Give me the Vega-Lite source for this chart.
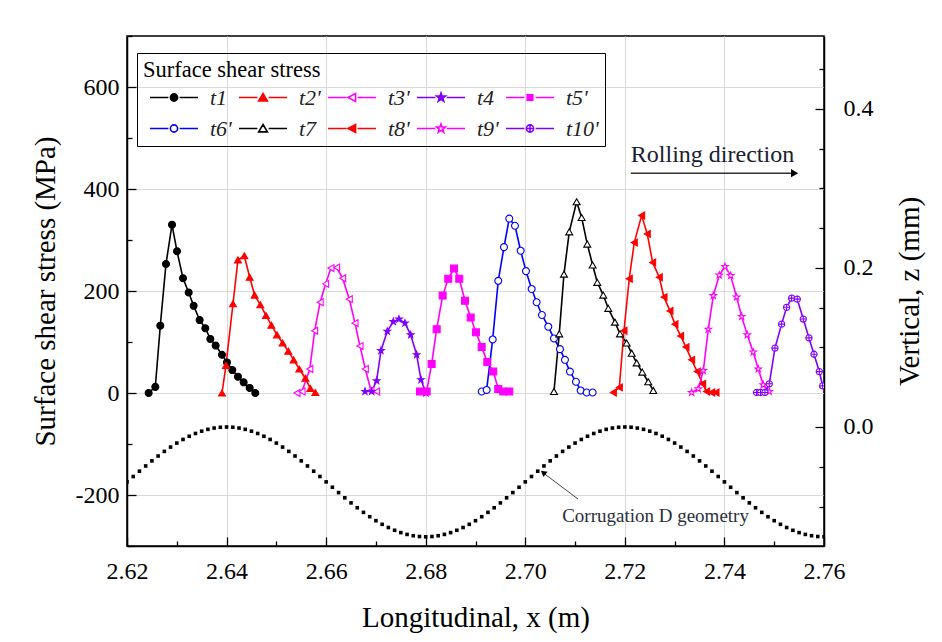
{
  "$schema": "https://vega.github.io/schema/vega-lite/v6.json",
  "width": 697,
  "height": 510,
  "autosize": {"type": "none"},
  "padding": {"left": 127, "top": 36, "right": 118, "bottom": 96},
  "background": "white",
  "config": {
    "view": {"stroke": "black", "strokeWidth": 1.5},
    "axis": {
      "labelFont": "Liberation Serif", "labelFontSize": 24, "labelColor": "black",
      "titleFont": "Liberation Serif", "titleFontSize": 29, "titleFontWeight": "normal", "titleColor": "black",
      "domainColor": "black", "domainWidth": 1.5, "tickColor": "black", "tickWidth": 1.3,
      "gridColor": "#d9d9d9", "gridWidth": 1
    },
    "text": {"font": "Liberation Serif"},
    "legend": {
      "titleFont": "Liberation Serif", "titleFontSize": 22.5, "titleFontWeight": "normal", "titleColor": "black", "titleLimit": 400,
      "labelFont": "Liberation Serif", "labelFontSize": 22, "labelFontStyle": "italic", "labelColor": "#222222"
    }
  },
  "datasets": {
    "curves": [
      {"series": "t1", "x": 2.62435, "s": 0}, {"series": "t1", "x": 2.62569, "s": 12}, {"series": "t1", "x": 2.62669, "s": 132}, {"series": "t1", "x": 2.62783, "s": 253}, {"series": "t1", "x": 2.62904, "s": 330}, {"series": "t1", "x": 2.63004, "s": 278}, {"series": "t1", "x": 2.63125, "s": 225}, {"series": "t1", "x": 2.63239, "s": 197}, {"series": "t1", "x": 2.63339, "s": 171}, {"series": "t1", "x": 2.63459, "s": 143}, {"series": "t1", "x": 2.63573, "s": 127}, {"series": "t1", "x": 2.63674, "s": 106}, {"series": "t1", "x": 2.63781, "s": 93}, {"series": "t1", "x": 2.63908, "s": 75}, {"series": "t1", "x": 2.64008, "s": 60}, {"series": "t1", "x": 2.64116, "s": 45}, {"series": "t1", "x": 2.64229, "s": 32}, {"series": "t1", "x": 2.64343, "s": 21}, {"series": "t1", "x": 2.64464, "s": 10}, {"series": "t1", "x": 2.64577, "s": 0},
      {"series": "t2'", "x": 2.63908, "s": 0}, {"series": "t2'", "x": 2.63988, "s": 54}, {"series": "t2'", "x": 2.64129, "s": 175}, {"series": "t2'", "x": 2.64229, "s": 261}, {"series": "t2'", "x": 2.64357, "s": 269}, {"series": "t2'", "x": 2.64464, "s": 227}, {"series": "t2'", "x": 2.64564, "s": 192}, {"series": "t2'", "x": 2.64678, "s": 173}, {"series": "t2'", "x": 2.64792, "s": 152}, {"series": "t2'", "x": 2.64899, "s": 133}, {"series": "t2'", "x": 2.65013, "s": 114}, {"series": "t2'", "x": 2.65126, "s": 98}, {"series": "t2'", "x": 2.6524, "s": 82}, {"series": "t2'", "x": 2.65347, "s": 65}, {"series": "t2'", "x": 2.65461, "s": 47}, {"series": "t2'", "x": 2.65582, "s": 29}, {"series": "t2'", "x": 2.65682, "s": 9}, {"series": "t2'", "x": 2.65783, "s": 1},
      {"series": "t3'", "x": 2.65414, "s": 0}, {"series": "t3'", "x": 2.65515, "s": 3}, {"series": "t3'", "x": 2.65672, "s": 47}, {"series": "t3'", "x": 2.65769, "s": 122}, {"series": "t3'", "x": 2.6588, "s": 178}, {"series": "t3'", "x": 2.6599, "s": 214}, {"series": "t3'", "x": 2.66097, "s": 245}, {"series": "t3'", "x": 2.66211, "s": 246}, {"series": "t3'", "x": 2.66332, "s": 225}, {"series": "t3'", "x": 2.66465, "s": 184}, {"series": "t3'", "x": 2.66579, "s": 137}, {"series": "t3'", "x": 2.6668, "s": 92}, {"series": "t3'", "x": 2.66787, "s": 47}, {"series": "t3'", "x": 2.669, "s": 5}, {"series": "t3'", "x": 2.67014, "s": 3},
      {"series": "t4", "x": 2.6678, "s": 3}, {"series": "t4", "x": 2.66914, "s": 3}, {"series": "t4", "x": 2.67014, "s": 24}, {"series": "t4", "x": 2.67101, "s": 83}, {"series": "t4", "x": 2.67228, "s": 121}, {"series": "t4", "x": 2.67349, "s": 140}, {"series": "t4", "x": 2.67463, "s": 145}, {"series": "t4", "x": 2.67583, "s": 137}, {"series": "t4", "x": 2.67698, "s": 114}, {"series": "t4", "x": 2.67818, "s": 75}, {"series": "t4", "x": 2.67905, "s": 26}, {"series": "t4", "x": 2.68005, "s": 0},
      {"series": "t5'", "x": 2.67885, "s": 3}, {"series": "t5'", "x": 2.68019, "s": 3}, {"series": "t5'", "x": 2.68119, "s": 57}, {"series": "t5'", "x": 2.6822, "s": 125}, {"series": "t5'", "x": 2.6834, "s": 191}, {"series": "t5'", "x": 2.68453, "s": 224}, {"series": "t5'", "x": 2.68568, "s": 244}, {"series": "t5'", "x": 2.68674, "s": 224}, {"series": "t5'", "x": 2.68789, "s": 181}, {"series": "t5'", "x": 2.68903, "s": 148}, {"series": "t5'", "x": 2.69009, "s": 119}, {"series": "t5'", "x": 2.69124, "s": 90}, {"series": "t5'", "x": 2.69237, "s": 61}, {"series": "t5'", "x": 2.69357, "s": 42}, {"series": "t5'", "x": 2.69457, "s": 8}, {"series": "t5'", "x": 2.69558, "s": 3}, {"series": "t5'", "x": 2.69678, "s": 3},
      {"series": "t6'", "x": 2.69124, "s": 3}, {"series": "t6'", "x": 2.69224, "s": 6}, {"series": "t6'", "x": 2.69345, "s": 105}, {"series": "t6'", "x": 2.69457, "s": 220}, {"series": "t6'", "x": 2.69572, "s": 286}, {"series": "t6'", "x": 2.69678, "s": 342}, {"series": "t6'", "x": 2.69793, "s": 328}, {"series": "t6'", "x": 2.69907, "s": 279}, {"series": "t6'", "x": 2.70014, "s": 239}, {"series": "t6'", "x": 2.70128, "s": 204}, {"series": "t6'", "x": 2.70228, "s": 178}, {"series": "t6'", "x": 2.70335, "s": 153}, {"series": "t6'", "x": 2.70462, "s": 130}, {"series": "t6'", "x": 2.70576, "s": 107}, {"series": "t6'", "x": 2.70697, "s": 86}, {"series": "t6'", "x": 2.70797, "s": 65}, {"series": "t6'", "x": 2.70897, "s": 42}, {"series": "t6'", "x": 2.71018, "s": 22}, {"series": "t6'", "x": 2.71112, "s": 5}, {"series": "t6'", "x": 2.71233, "s": 1}, {"series": "t6'", "x": 2.71353, "s": 1},
      {"series": "t7", "x": 2.70576, "s": 3}, {"series": "t7", "x": 2.70682, "s": 116}, {"series": "t7", "x": 2.70777, "s": 233}, {"series": "t7", "x": 2.70883, "s": 316}, {"series": "t7", "x": 2.71032, "s": 375}, {"series": "t7", "x": 2.71132, "s": 344}, {"series": "t7", "x": 2.71245, "s": 292}, {"series": "t7", "x": 2.71353, "s": 251}, {"series": "t7", "x": 2.71446, "s": 217}, {"series": "t7", "x": 2.71566, "s": 192}, {"series": "t7", "x": 2.71667, "s": 166}, {"series": "t7", "x": 2.71801, "s": 139}, {"series": "t7", "x": 2.71902, "s": 116}, {"series": "t7", "x": 2.72036, "s": 98}, {"series": "t7", "x": 2.72137, "s": 78}, {"series": "t7", "x": 2.72237, "s": 59}, {"series": "t7", "x": 2.7235, "s": 41}, {"series": "t7", "x": 2.7247, "s": 22}, {"series": "t7", "x": 2.72571, "s": 5},
      {"series": "t8'", "x": 2.71768, "s": 1}, {"series": "t8'", "x": 2.71889, "s": 11}, {"series": "t8'", "x": 2.71982, "s": 122}, {"series": "t8'", "x": 2.72088, "s": 224}, {"series": "t8'", "x": 2.72189, "s": 295}, {"series": "t8'", "x": 2.72337, "s": 348}, {"series": "t8'", "x": 2.7245, "s": 312}, {"series": "t8'", "x": 2.72558, "s": 256}, {"series": "t8'", "x": 2.72691, "s": 227}, {"series": "t8'", "x": 2.72785, "s": 188}, {"series": "t8'", "x": 2.72906, "s": 161}, {"series": "t8'", "x": 2.73006, "s": 135}, {"series": "t8'", "x": 2.7312, "s": 112}, {"series": "t8'", "x": 2.73227, "s": 90}, {"series": "t8'", "x": 2.73341, "s": 65}, {"series": "t8'", "x": 2.73454, "s": 42}, {"series": "t8'", "x": 2.73562, "s": 18}, {"series": "t8'", "x": 2.73642, "s": 3}, {"series": "t8'", "x": 2.73743, "s": 1}, {"series": "t8'", "x": 2.7383, "s": 1},
      {"series": "t9'", "x": 2.73341, "s": 1}, {"series": "t9'", "x": 2.73475, "s": 8}, {"series": "t9'", "x": 2.73576, "s": 44}, {"series": "t9'", "x": 2.73676, "s": 125}, {"series": "t9'", "x": 2.73777, "s": 191}, {"series": "t9'", "x": 2.73897, "s": 231}, {"series": "t9'", "x": 2.74011, "s": 248}, {"series": "t9'", "x": 2.74125, "s": 230}, {"series": "t9'", "x": 2.74245, "s": 188}, {"series": "t9'", "x": 2.74346, "s": 150}, {"series": "t9'", "x": 2.74459, "s": 114}, {"series": "t9'", "x": 2.74579, "s": 80}, {"series": "t9'", "x": 2.7468, "s": 47}, {"series": "t9'", "x": 2.7478, "s": 16}, {"series": "t9'", "x": 2.74901, "s": 3},
      {"series": "t10'", "x": 2.74646, "s": 1}, {"series": "t10'", "x": 2.74726, "s": 1}, {"series": "t10'", "x": 2.74813, "s": 1}, {"series": "t10'", "x": 2.74901, "s": 18}, {"series": "t10'", "x": 2.75015, "s": 88}, {"series": "t10'", "x": 2.75149, "s": 135}, {"series": "t10'", "x": 2.75249, "s": 168}, {"series": "t10'", "x": 2.7535, "s": 186}, {"series": "t10'", "x": 2.75463, "s": 184}, {"series": "t10'", "x": 2.75584, "s": 145}, {"series": "t10'", "x": 2.75698, "s": 108}, {"series": "t10'", "x": 2.75799, "s": 76}, {"series": "t10'", "x": 2.75906, "s": 42}, {"series": "t10'", "x": 2.75973, "s": 14}
    ],
    "geometry": [
      {"x": 2.62, "z": -0.069}, {"x": 2.62125, "z": -0.06224}, {"x": 2.6225, "z": -0.05554}, {"x": 2.62375, "z": -0.04897}, {"x": 2.625, "z": -0.0426}, {"x": 2.62625, "z": -0.03647}, {"x": 2.6275, "z": -0.03067}, {"x": 2.62875, "z": -0.02523}, {"x": 2.63, "z": -0.02021}, {"x": 2.63125, "z": -0.01566}, {"x": 2.6325, "z": -0.01163}, {"x": 2.63375, "z": -0.00815}, {"x": 2.635, "z": -0.00525}, {"x": 2.63625, "z": -0.00297}, {"x": 2.6375, "z": -0.00133}, {"x": 2.63875, "z": -0.00033},
      {"x": 2.64, "z": 0}, {"x": 2.64125, "z": -0.00033}, {"x": 2.6425, "z": -0.00133}, {"x": 2.64375, "z": -0.00297}, {"x": 2.645, "z": -0.00525}, {"x": 2.64625, "z": -0.00815}, {"x": 2.6475, "z": -0.01163}, {"x": 2.64875, "z": -0.01566}, {"x": 2.65, "z": -0.02021}, {"x": 2.65125, "z": -0.02523}, {"x": 2.6525, "z": -0.03067}, {"x": 2.65375, "z": -0.03647}, {"x": 2.655, "z": -0.0426}, {"x": 2.65625, "z": -0.04897}, {"x": 2.6575, "z": -0.05554}, {"x": 2.65875, "z": -0.06224},
      {"x": 2.66, "z": -0.069}, {"x": 2.66125, "z": -0.07576}, {"x": 2.6625, "z": -0.08246}, {"x": 2.66375, "z": -0.08903}, {"x": 2.665, "z": -0.0954}, {"x": 2.66625, "z": -0.10153}, {"x": 2.6675, "z": -0.10733}, {"x": 2.66875, "z": -0.11277}, {"x": 2.67, "z": -0.11779}, {"x": 2.67125, "z": -0.12234}, {"x": 2.6725, "z": -0.12637}, {"x": 2.67375, "z": -0.12985}, {"x": 2.675, "z": -0.13275}, {"x": 2.67625, "z": -0.13503}, {"x": 2.6775, "z": -0.13667}, {"x": 2.67875, "z": -0.13767},
      {"x": 2.68, "z": -0.138}, {"x": 2.68125, "z": -0.13767}, {"x": 2.6825, "z": -0.13667}, {"x": 2.68375, "z": -0.13503}, {"x": 2.685, "z": -0.13275}, {"x": 2.68625, "z": -0.12985}, {"x": 2.6875, "z": -0.12637}, {"x": 2.68875, "z": -0.12234}, {"x": 2.69, "z": -0.11779}, {"x": 2.69125, "z": -0.11277}, {"x": 2.6925, "z": -0.10733}, {"x": 2.69375, "z": -0.10153}, {"x": 2.695, "z": -0.0954}, {"x": 2.69625, "z": -0.08903}, {"x": 2.6975, "z": -0.08246}, {"x": 2.69875, "z": -0.07576},
      {"x": 2.7, "z": -0.069}, {"x": 2.70125, "z": -0.06224}, {"x": 2.7025, "z": -0.05554}, {"x": 2.70375, "z": -0.04897}, {"x": 2.705, "z": -0.0426}, {"x": 2.70625, "z": -0.03647}, {"x": 2.7075, "z": -0.03067}, {"x": 2.70875, "z": -0.02523}, {"x": 2.71, "z": -0.02021}, {"x": 2.71125, "z": -0.01566}, {"x": 2.7125, "z": -0.01163}, {"x": 2.71375, "z": -0.00815}, {"x": 2.715, "z": -0.00525}, {"x": 2.71625, "z": -0.00297}, {"x": 2.7175, "z": -0.00133}, {"x": 2.71875, "z": -0.00033},
      {"x": 2.72, "z": 0}, {"x": 2.72125, "z": -0.00033}, {"x": 2.7225, "z": -0.00133}, {"x": 2.72375, "z": -0.00297}, {"x": 2.725, "z": -0.00525}, {"x": 2.72625, "z": -0.00815}, {"x": 2.7275, "z": -0.01163}, {"x": 2.72875, "z": -0.01566}, {"x": 2.73, "z": -0.02021}, {"x": 2.73125, "z": -0.02523}, {"x": 2.7325, "z": -0.03067}, {"x": 2.73375, "z": -0.03647}, {"x": 2.735, "z": -0.0426}, {"x": 2.73625, "z": -0.04897}, {"x": 2.7375, "z": -0.05554}, {"x": 2.73875, "z": -0.06224},
      {"x": 2.74, "z": -0.069}, {"x": 2.74125, "z": -0.07576}, {"x": 2.7425, "z": -0.08246}, {"x": 2.74375, "z": -0.08903}, {"x": 2.745, "z": -0.0954}, {"x": 2.74625, "z": -0.10153}, {"x": 2.7475, "z": -0.10733}, {"x": 2.74875, "z": -0.11277}, {"x": 2.75, "z": -0.11779}, {"x": 2.75125, "z": -0.12234}, {"x": 2.7525, "z": -0.12637}, {"x": 2.75375, "z": -0.12985}, {"x": 2.755, "z": -0.13275}, {"x": 2.75625, "z": -0.13503}, {"x": 2.7575, "z": -0.13667}, {"x": 2.75875, "z": -0.13767}, {"x": 2.76, "z": -0.138}
    ],
    "legendItems": [
      {"label": "t1"}, {"label": "t2'"}, {"label": "t3'"}, {"label": "t4"}, {"label": "t5'"},
      {"label": "t6'"}, {"label": "t7"}, {"label": "t8'"}, {"label": "t9'"}, {"label": "t10'"}
    ]
  },
  "encoding": {
    "x": {
      "type": "quantitative",
      "scale": {"domain": [2.62, 2.76], "nice": false, "zero": false},
      "axis": {
        "title": "Longitudinal, x (m)",
        "values": [2.62, 2.63, 2.64, 2.65, 2.66, 2.67, 2.68, 2.69, 2.7, 2.71, 2.72, 2.73, 2.74, 2.75, 2.76],
        "labelExpr": "round(datum.value*100) % 2 == 0 ? format(datum.value, '.2f') : ''",
        "tickSize": {"condition": {"test": "round(datum.value*100) % 2 == 0", "value": -9}, "value": -5},
        "labelPadding": 22,
        "labelFlush": false,
        "gridOpacity": {"condition": {"test": "round(datum.value*100) % 2 == 0", "value": 1}, "value": 0},
        "grid": true,
        "titlePadding": 20
      }
    }
  },
  "layer": [
    {
      "data": {"name": "curves"},
      "encoding": {
        "y": {
          "type": "quantitative",
          "scale": {"domain": [-300, 700], "nice": false, "zero": false},
          "axis": {
            "title": "Surface shear stress (MPa)",
            "values": [-300, -200, -100, 0, 100, 200, 300, 400, 500, 600, 700],
            "labelExpr": "datum.value % 200 == 0 ? datum.value : ''",
            "tickSize": {"condition": {"test": "datum.value % 200 == 0", "value": -9}, "value": -5},
            "labelPadding": 17,
            "labelFlush": false,
            "grid": true,
            "gridOpacity": {"condition": {"test": "datum.value % 200 == 0", "value": 1}, "value": 0},
            "titlePadding": 15
          }
        }
      },
      "layer": [
        {
          "mark": {"type": "line", "strokeWidth": 1.6, "clip": true},
          "encoding": {
            "x": {"field": "x", "type": "quantitative"},
            "y": {"field": "s", "type": "quantitative"},
            "stroke": {
              "field": "series", "type": "nominal", "legend": null,
              "scale": {
                "domain": ["t1", "t2'", "t3'", "t4", "t5'", "t6'", "t7", "t8'", "t9'", "t10'"],
                "range": ["#000000", "#ff0000", "#ff00ff", "#8000ff", "#ff00ff", "#0000ff", "#000000", "#ff0000", "#ff00ff", "#8000ff"]
              }
            },
            "detail": {"field": "series"}
          }
        },
        {
          "mark": {"type": "point", "size": 48, "strokeWidth": 1.1, "opacity": 1, "clip": true},
          "encoding": {
            "x": {"field": "x", "type": "quantitative"},
            "y": {"field": "s", "type": "quantitative"},
            "stroke": {"field": "series", "type": "nominal", "legend": null},
            "fill": {
              "field": "series", "type": "nominal", "legend": null,
              "scale": {
                "domain": ["t1", "t2'", "t3'", "t4", "t5'", "t6'", "t7", "t8'", "t9'", "t10'"],
                "range": ["#000000", "#ff0000", "#ffffff", "#8000ff", "#ff00ff", "#ffffff", "#ffffff", "#ff0000", "#ffffff", "#ffffff"]
              }
            },
            "shape": {
              "field": "series", "type": "nominal", "legend": null,
              "scale": {
                "domain": ["t1", "t2'", "t3'", "t4", "t5'", "t6'", "t7", "t8'", "t9'", "t10'"],
                "range": [
                  "circle", "triangle-up", "triangle-left",
                  "M0,-1L0.235,-0.324L0.951,-0.309L0.38,0.124L0.588,0.809L0,0.4L-0.588,0.809L-0.38,0.124L-0.951,-0.309L-0.235,-0.324Z",
                  "square", "circle", "triangle-up", "triangle-left",
                  "M0,-1L0.235,-0.324L0.951,-0.309L0.38,0.124L0.588,0.809L0,0.4L-0.588,0.809L-0.38,0.124L-0.951,-0.309L-0.235,-0.324Z",
                  "M-0.9,0A0.9,0.9 0 1,1 0.9,0A0.9,0.9 0 1,1 -0.9,0ZM-0.9,0H0.9M0,-0.9V0.9"
                ]
              }
            }
          }
        },
        {
          "data": {"values": [{}]},
          "mark": {"type": "text", "align": "left", "baseline": "alphabetic", "fontSize": 24, "font": "Liberation Serif", "color": "#1a2030"},
          "encoding": {"x": {"datum": 2.7212}, "y": {"datum": 453}, "text": {"value": "Rolling direction"}}
        },
        {
          "data": {"values": [{}]},
          "mark": {"type": "rule", "color": "#333333", "strokeWidth": 1.6},
          "encoding": {"x": {"datum": 2.7212}, "x2": {"datum": 2.7538}, "y": {"datum": 431}}
        },
        {
          "data": {"values": [{}]},
          "mark": {"type": "point", "shape": "triangle-right", "filled": true, "color": "black", "size": 70, "opacity": 1},
          "encoding": {"x": {"datum": 2.7541}, "y": {"datum": 431}}
        },
        {
          "data": {"values": [{}]},
          "mark": {"type": "text", "align": "left", "baseline": "alphabetic", "fontSize": 19, "font": "Liberation Serif", "color": "#2a2f3a"},
          "encoding": {"x": {"datum": 2.7074}, "y": {"datum": -253}, "text": {"value": "Corrugation D geometry"}}
        },
        {
          "data": {"values": [{}]},
          "mark": {"type": "rule", "color": "#444444", "strokeWidth": 1},
          "encoding": {"x": {"datum": 2.7106}, "x2": {"datum": 2.7038}, "y": {"datum": -208}, "y2": {"datum": -158}}
        },
        {
          "data": {"values": [{}]},
          "mark": {"type": "point", "shape": "triangle-up", "filled": true, "color": "black", "size": 45, "opacity": 1, "angle": 308},
          "encoding": {"x": {"datum": 2.7036}, "y": {"datum": -156}}
        }
      ]
    },
    {
      "data": {"name": "geometry"},
      "mark": {"type": "point", "shape": "square", "filled": true, "color": "black", "size": 13, "opacity": 1, "clip": true},
      "encoding": {
        "x": {"field": "x", "type": "quantitative"},
        "y": {
          "field": "z", "type": "quantitative",
          "scale": {"domain": [-0.1496, 0.4915], "nice": false, "zero": false},
          "axis": {
            "orient": "right",
            "title": "Vertical, z (mm)",
            "titleAngle": 270,
            "titleBaseline": "top",
            "values": [-0.1, -0.05, 0, 0.05, 0.1, 0.15, 0.2, 0.25, 0.3, 0.35, 0.4, 0.45],
            "labelExpr": "abs(datum.value*10 - round(datum.value*10)) < 0.01 && round(datum.value*10) % 2 == 0 ? format(datum.value, '.1f') : ''",
            "tickSize": {"condition": {"test": "abs(datum.value*10 - round(datum.value*10)) < 0.01 && round(datum.value*10) % 2 == 0", "value": -9}, "value": -5},
            "labelPadding": 28,
            "labelFlush": false,
            "grid": false,
            "titlePadding": 22
          }
        }
      }
    },
    {
      "data": {"name": "legendItems"},
      "mark": {"type": "point", "clip": true, "opacity": 1, "size": 40},
      "encoding": {
        "x": {"datum": 2.5},
        "stroke": {
          "field": "label", "type": "nominal",
          "scale": {
            "domain": ["t1", "t2'", "t3'", "t4", "t5'", "t6'", "t7", "t8'", "t9'", "t10'"],
            "range": ["#000000", "#ff0000", "#ff00ff", "#8000ff", "#ff00ff", "#0000ff", "#000000", "#ff0000", "#ff00ff", "#8000ff"]
          },
          "legend": {"title": "Surface shear stress", "orient": "none", "legendX": 10, "legendY": 17, "direction": "horizontal", "columns": 5, "symbolSize": 64, "symbolStrokeWidth": 1.6, "rowPadding": 9, "columnPadding": 0, "labelOffset": 45, "strokeColor": "black", "padding": 6, "titlePadding": 5}
        },
        "fill": {
          "field": "label", "type": "nominal",
          "scale": {
            "domain": ["t1", "t2'", "t3'", "t4", "t5'", "t6'", "t7", "t8'", "t9'", "t10'"],
            "range": ["#000000", "#ff0000", "#ffffff", "#8000ff", "#ff00ff", "#ffffff", "#ffffff", "#ff0000", "#ffffff", "#ffffff"]
          },
          "legend": {"title": "Surface shear stress", "orient": "none", "legendX": 10, "legendY": 17, "direction": "horizontal", "columns": 5, "symbolSize": 64, "symbolStrokeWidth": 1.6, "rowPadding": 9, "columnPadding": 0, "labelOffset": 45, "strokeColor": "black", "padding": 6, "titlePadding": 5}
        },
        "shape": {
          "field": "label", "type": "nominal",
          "scale": {
            "domain": ["t1", "t2'", "t3'", "t4", "t5'", "t6'", "t7", "t8'", "t9'", "t10'"],
            "range": [
              "M-1,0H3.6M6.4,0H11M4.1,0A0.9,0.9 0 1,1 5.9,0A0.9,0.9 0 1,1 4.1,0Z",
              "M-1,0H3.6M6.4,0H11M5,-1L6.1,0.85L3.9,0.85Z",
              "M-1,0H3.6M6.4,0H11M4,0L5.9,-1L5.9,1Z",
              "M-1,0H3.6M6.4,0H11M5,-1.15L5.27,-0.37L6.09,-0.36L5.44,0.14L5.68,0.93L5,0.46L4.32,0.93L4.56,0.14L3.91,-0.36L4.73,-0.37Z",
              "M-1,0H3.6M6.4,0H11M4.3,-0.7H5.7V0.7H4.3Z",
              "M-1,0H3.6M6.4,0H11M4.1,0A0.9,0.9 0 1,1 5.9,0A0.9,0.9 0 1,1 4.1,0Z",
              "M-1,0H3.6M6.4,0H11M5,-1L6.1,0.85L3.9,0.85Z",
              "M-1,0H3.6M6.4,0H11M4,0L5.9,-1L5.9,1Z",
              "M-1,0H3.6M6.4,0H11M5,-1.15L5.27,-0.37L6.09,-0.36L5.44,0.14L5.68,0.93L5,0.46L4.32,0.93L4.56,0.14L3.91,-0.36L4.73,-0.37Z",
              "M-1,0H3.6M6.4,0H11M4.1,0A0.9,0.9 0 1,1 5.9,0A0.9,0.9 0 1,1 4.1,0ZM4.1,0H5.9M5,-0.9V0.9"
            ]
          },
          "legend": {"title": "Surface shear stress", "orient": "none", "legendX": 10, "legendY": 17, "direction": "horizontal", "columns": 5, "symbolSize": 64, "symbolStrokeWidth": 1.6, "rowPadding": 9, "columnPadding": 0, "labelOffset": 45, "strokeColor": "black", "padding": 6, "titlePadding": 5}
        }
      }
    }
  ],
  "resolve": {"scale": {"y": "independent", "stroke": "independent", "fill": "independent", "shape": "independent"}}
}
